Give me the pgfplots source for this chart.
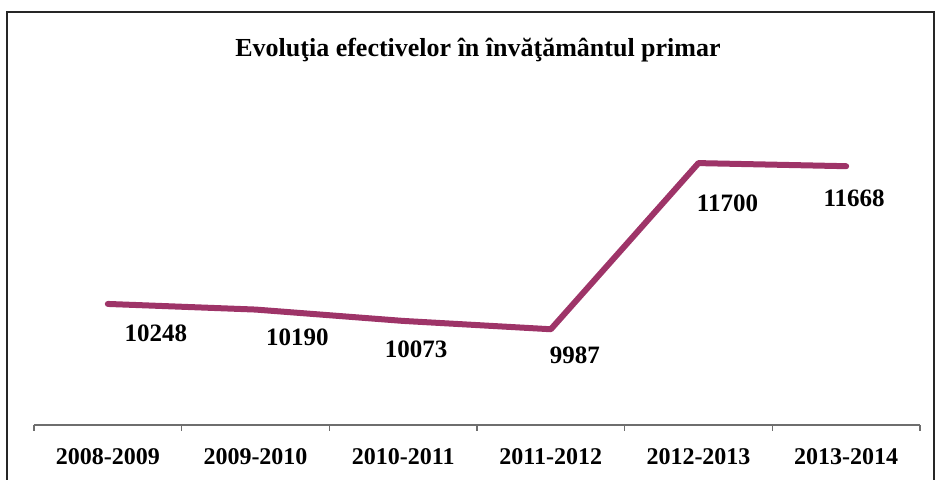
\documentclass[border=0pt]{standalone}
\usepackage{pgfplots}
\pgfplotsset{compat=1.18}
\usepackage{fontspec}
\setmainfont{Liberation Serif}

\definecolor{linecol}{RGB}{158, 52, 104}
\definecolor{axcol}{RGB}{110, 110, 110}

\begin{document}
\begin{tikzpicture}
\useasboundingbox (-17pt,-27.5pt) rectangle (452pt,212.5pt);
% frame round the chart (its bottom edge lies below the picture)
\draw[black!85, line width=0.6pt] (-13.5pt,-40pt) -- (-13.5pt,206.5pt) -- (450pt,206.5pt) -- (450pt,-40pt);
\begin{axis}[
    at={(0pt,0pt)}, anchor=south west,
    scale only axis,
    width=443pt, height=145.5pt,
    xmin=-0.5, xmax=5.5,
    ymin=9000, ymax=12000,
    axis x line*=bottom,
    axis y line=none,
    axis line style={axcol, line width=0.6pt},
    xtick={0,1,2,3,4,5},
    xticklabels={2008-2009,2009-2010,2010-2011,2011-2012,2012-2013,2013-2014},
    major tick length=0pt,
    minor xtick={-0.5,0.5,1.5,2.5,3.5,4.5,5.5},
    minor tick length=3pt,
    tick align=outside,
    minor tick style={axcol, line width=0.6pt},
    xticklabel style={font=\bfseries\fontsize{12}{14}\selectfont, yshift=-8pt},
    clip=false,
    visualization depends on={\thisrow{dx}\as\dx},
    visualization depends on={\thisrow{dy}\as\dy},
    nodes near coords,
    point meta=explicit symbolic,
    every node near coord/.append style={anchor=center, font=\bfseries\fontsize{12.5}{14}\selectfont, black, xshift=\dx pt, yshift=\dy pt},
]
\addplot[linecol, line width=3pt, line join=round, line cap=round, mark=none]
    table[x=x, y=y, meta=y] {
x y     dx   dy
0 10248 24   -14.5
1 10190 21   -14
2 10073 6.5  -14
3 9987  12   -13
4 11700 14.5 -20
5 11668 4    -16
};
\end{axis}
\node[font=\bfseries\fontsize{13}{15}\selectfont] at (222pt,187.5pt) {Evoluţia efectivelor în învăţământul primar};
\end{tikzpicture}
\end{document}
